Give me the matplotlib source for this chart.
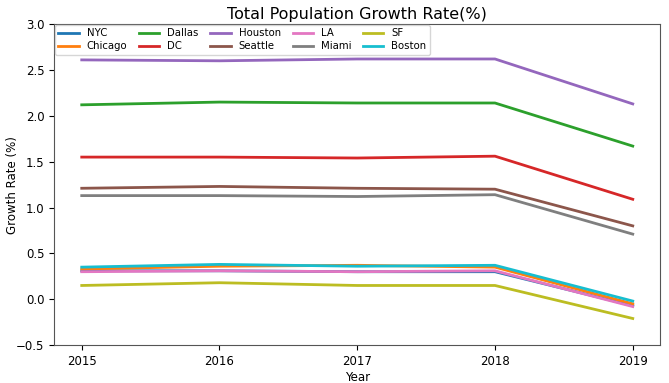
import matplotlib
matplotlib.use("Agg")
import matplotlib.pyplot as plt

years = [2015, 2016, 2017, 2018, 2019]
cities = ['NYC', 'Chicago', 'Dallas', 'DC', 'Houston', 'Seattle', 'LA', 'Miami', 'SF', 'Boston']

nyc = [0.31, 0.31, 0.30, 0.30, -0.07]
chicago = [0.33, 0.36, 0.37, 0.35, -0.05]
dallas = [2.12, 2.15, 2.14, 2.14, 1.67]
dc = [1.55, 1.55, 1.54, 1.56, 1.09]
houston = [2.61, 2.60, 2.62, 2.62, 2.13]
seattle = [1.21, 1.23, 1.21, 1.20, 0.80]
la = [0.30, 0.31, 0.30, 0.31, -0.08]
miami = [1.13, 1.13, 1.12, 1.14, 0.71]
sf = [0.15, 0.18, 0.15, 0.15, -0.21]
boston = [0.35, 0.38, 0.36, 0.37, -0.02]

series = [nyc, chicago, dallas, dc, houston, seattle, la, miami, sf, boston]

plt.rcParams['font.size'] = 8.5

fig, ax = plt.subplots(figsize=(6.69, 3.83), dpi=100)
for name, vals in zip(cities, series):
    ax.plot(years, vals, linewidth=2, label=name)

ax.set_title('Total Population Growth Rate(%)', fontsize=11.5, pad=4)
ax.set_xlabel('Year', labelpad=2)
ax.set_ylabel('Growth Rate (%)')
ax.yaxis.set_label_coords(-0.058, 0.5)
ax.set_xticks(years)
ax.set_ylim(-0.5, 3.0)
for s in ax.spines.values():
    s.set_color('#555555')
ax.legend(loc='upper left', ncol=5, fontsize=7.3, borderaxespad=0.05,
          handlelength=2.0, columnspacing=1.15, labelspacing=0.3,
          borderpad=0.35, handletextpad=0.8)
fig.subplots_adjust(left=0.081, right=0.987, top=0.937, bottom=0.099)
fig.savefig('out.png')
